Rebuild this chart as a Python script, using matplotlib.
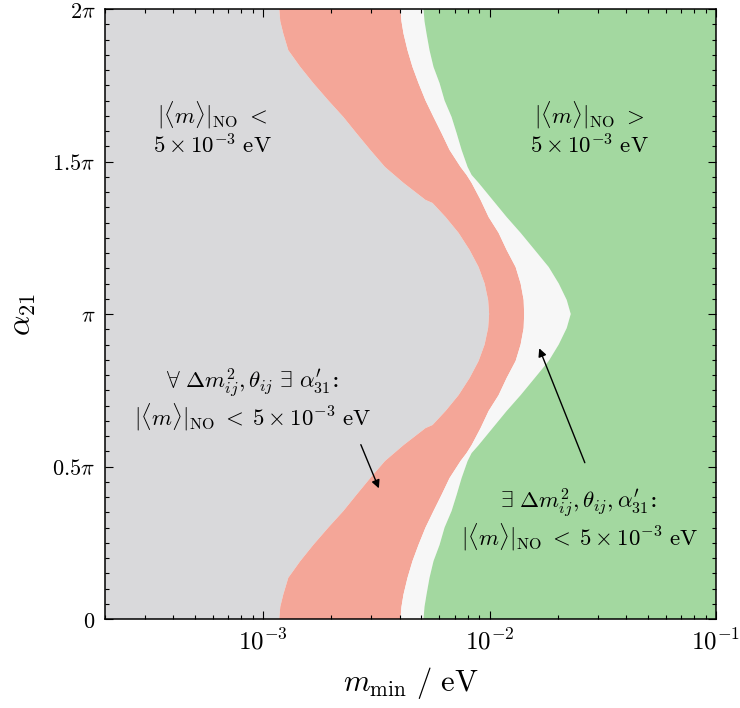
import numpy as np
import matplotlib
matplotlib.use('Agg')
import matplotlib.pyplot as plt
from matplotlib.ticker import MultipleLocator

plt.rcParams['mathtext.fontset'] = 'cm'
plt.rcParams['font.family'] = ['DejaVu Serif']

# region boundaries: alpha_21 in units of pi, m_min in eV
# gray / salmon edge
gray_alpha = [0.0, 0.04, 0.08, 0.135, 0.19, 0.243, 0.30, 0.354, 0.407, 0.462, 0.518,
              0.57, 0.626, 0.636, 0.682, 0.734, 0.79, 0.846, 0.90, 0.954, 1.0,
              1.046, 1.10, 1.154, 1.21, 1.266, 1.318, 1.364, 1.374, 1.43, 1.482,
              1.538, 1.593, 1.646, 1.70, 1.757, 1.81, 1.865, 1.92, 1.96, 2.0]
gray_m = [1.177e-3, 1.189e-3, 1.226e-3, 1.290e-3, 1.458e-3, 1.664e-3, 1.940e-3, 2.259e-3,
          2.580e-3, 2.970e-3, 3.450e-3, 4.164e-3, 5.211e-3, 5.595e-3, 6.389e-3, 7.292e-3,
          8.157e-3, 8.940e-3, 9.504e-3, 9.849e-3, 9.949e-3,
          9.849e-3, 9.504e-3, 8.940e-3, 8.157e-3, 7.292e-3, 6.389e-3, 5.595e-3, 5.211e-3,
          4.164e-3, 3.450e-3, 2.970e-3, 2.580e-3, 2.259e-3, 1.940e-3, 1.664e-3, 1.458e-3,
          1.290e-3, 1.226e-3, 1.189e-3, 1.177e-3]

# salmon / white edge and white / green edge share the same alpha samples
band_alpha = [0.0, 0.04, 0.08, 0.135, 0.19, 0.243, 0.30, 0.354, 0.407, 0.462, 0.518,
              0.544, 0.57, 0.626, 0.682, 0.734, 0.79, 0.846, 0.90, 0.954, 1.0,
              1.046, 1.10, 1.154, 1.21, 1.266, 1.318, 1.374, 1.43, 1.456, 1.482,
              1.538, 1.593, 1.646, 1.70, 1.757, 1.81, 1.865, 1.92, 1.96, 2.0]
salmon_m = [4.038e-3, 4.080e-3, 4.164e-3, 4.338e-3, 4.564e-3, 4.851e-3, 5.211e-3, 5.652e-3,
            6.133e-3, 6.653e-3, 7.442e-3, 7.911e-3, 8.325e-3, 9.124e-3, 9.899e-3, 1.096e-2,
            1.189e-2, 1.303e-2, 1.371e-2, 1.414e-2, 1.421e-2,
            1.414e-2, 1.371e-2, 1.303e-2, 1.189e-2, 1.096e-2, 9.899e-3, 9.124e-3, 8.325e-3,
            7.911e-3, 7.442e-3, 6.653e-3, 6.133e-3, 5.652e-3, 5.211e-3, 4.851e-3, 4.564e-3,
            4.338e-3, 4.164e-3, 4.080e-3, 4.038e-3]
green_m = [5.105e-3, 5.157e-3, 5.263e-3, 5.426e-3, 5.652e-3, 6.010e-3, 6.324e-3, 6.791e-3,
           7.150e-3, 7.519e-3, 7.993e-3, 8.325e-3, 8.940e-3, 1.031e-2, 1.189e-2, 1.371e-2,
           1.582e-2, 1.824e-2, 2.020e-2, 2.191e-2, 2.282e-2,
           2.191e-2, 2.020e-2, 1.824e-2, 1.582e-2, 1.371e-2, 1.189e-2, 1.031e-2, 8.940e-3,
           8.325e-3, 7.993e-3, 7.519e-3, 7.150e-3, 6.791e-3, 6.324e-3, 6.010e-3, 5.652e-3,
           5.426e-3, 5.263e-3, 5.157e-3, 5.105e-3]

m_lo, m_hi = 2e-4, 1e-1
c_gray = '#d9d9db'
c_salmon = '#f4a698'
c_white = '#f7f7f7'
c_green = '#a3d8a0'

fig = plt.figure(figsize=(7.4, 7.08), dpi=100)
ax = fig.add_axes([105/740, 1 - 619/708, 611/740, 610/708])
ax.set_xscale('log')

g_a, g_m = np.array(gray_alpha), np.array(gray_m)
b_a = np.array(band_alpha)
s_m, w_m = np.array(salmon_m), np.array(green_m)

ax.fill(np.r_[m_lo, g_m, m_lo], np.r_[0, g_a, 2], color=c_gray, lw=0)
ax.fill(np.r_[g_m, s_m[::-1]], np.r_[g_a, b_a[::-1]], color=c_salmon, lw=0)
ax.fill(np.r_[s_m, w_m[::-1]], np.r_[b_a, b_a[::-1]], color=c_white, lw=0)
ax.fill(np.r_[w_m, m_hi, m_hi], np.r_[b_a, 2, 0], color=c_green, lw=0)

ax.set_xlim(m_lo, m_hi)
ax.set_ylim(0, 2)

ax.set_xticks([1e-3, 1e-2, 1e-1])
ax.set_xticklabels([r'$10^{-3}$', r'$10^{-2}$', r'$10^{-1}$'])
ax.set_yticks([0, 0.5, 1, 1.5, 2])
ax.set_yticklabels([r'$0$', r'$0.5\pi$', r'$\pi$', r'$1.5\pi$', r'$2\pi$'])
ax.yaxis.set_minor_locator(MultipleLocator(0.05))
ax.tick_params(which='both', direction='in', top=True, right=True, width=0.8, pad=7)
ax.tick_params(axis='x', labelsize=18)
ax.tick_params(axis='y', labelsize=16)
ax.tick_params(which='major', length=6)
ax.tick_params(which='minor', length=3)
for sp in ax.spines.values():
    sp.set_linewidth(1.1)

ax.set_xlabel(r'$m_{\mathrm{min}}\ /\ \mathrm{eV}$', fontsize=22, labelpad=8)
ax.set_ylabel(r'$\alpha_{21}$', fontsize=23, labelpad=10)

fs = 16.5
ax.text(0.175, 0.826, r'$|\langle m\rangle|_{\mathrm{NO}}\ <$', transform=ax.transAxes,
        ha='center', va='center', fontsize=fs)
ax.text(0.175, 0.774, r'$5\times10^{-3}\ \mathrm{eV}$', transform=ax.transAxes,
        ha='center', va='center', fontsize=fs)
ax.text(0.792, 0.826, r'$|\langle m\rangle|_{\mathrm{NO}}\ >$', transform=ax.transAxes,
        ha='center', va='center', fontsize=fs)
ax.text(0.792, 0.774, r'$5\times10^{-3}\ \mathrm{eV}$', transform=ax.transAxes,
        ha='center', va='center', fontsize=fs)

ax.text(0.241, 0.387, r'$\forall\ \Delta m^2_{ij},\theta_{ij}\ \exists\ \alpha^{\prime}_{31}$:',
        transform=ax.transAxes, ha='center', va='center', fontsize=fs)
ax.text(0.241, 0.330, r'$|\langle m\rangle|_{\mathrm{NO}}\; <\; 5\times10^{-3}\ \mathrm{eV}$',
        transform=ax.transAxes, ha='center', va='center', fontsize=fs)
ax.text(0.774, 0.190, r'$\exists\ \Delta m^2_{ij},\theta_{ij},\alpha^{\prime}_{31}$:',
        transform=ax.transAxes, ha='center', va='center', fontsize=fs)
ax.text(0.777, 0.133, r'$|\langle m\rangle|_{\mathrm{NO}}\; <\; 5\times10^{-3}\ \mathrm{eV}$',
        transform=ax.transAxes, ha='center', va='center', fontsize=fs)

ax.annotate('', xy=(0.450, 0.210), xytext=(0.417, 0.290), xycoords='axes fraction',
            arrowprops=dict(arrowstyle='-|>', color='black', lw=1.0, mutation_scale=12))
ax.annotate('', xy=(0.709, 0.448), xytext=(0.787, 0.252), xycoords='axes fraction',
            arrowprops=dict(arrowstyle='-|>', color='black', lw=1.0, mutation_scale=12))

fig.savefig('out.png', dpi=100)
